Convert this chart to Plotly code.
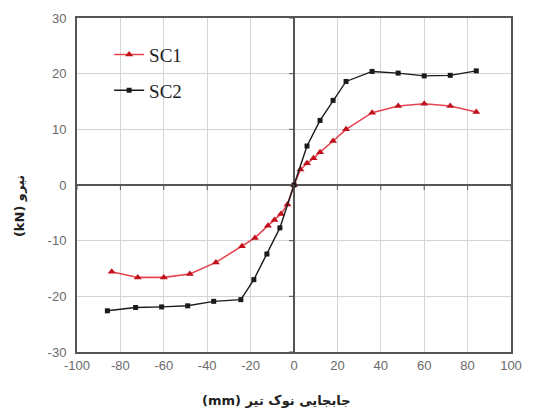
import plotly.graph_objects as go

# ---- data ----
sc1_x = [-84, -72, -60, -48, -36, -24, -18, -12, -9, -6, -3, 0, 3, 6, 9, 12, 18, 24, 36, 48, 60, 72, 84]
sc1_y = [-15.6, -16.6, -16.6, -16.0, -13.9, -11.0, -9.5, -7.3, -6.3, -5.2, -3.5, 0, 2.8, 3.9, 4.8, 5.9, 7.9, 10.0, 13.0, 14.2, 14.6, 14.2, 13.1]
sc2_x = [-86, -73, -61, -49, -37, -24.5, -18.5, -12.5, -6.5, 0, 6, 12, 18, 24, 36, 48, 60, 72, 84]
sc2_y = [-22.6, -22.0, -21.9, -21.7, -20.9, -20.6, -17.0, -12.4, -7.7, 0, 7.0, 11.6, 15.2, 18.6, 20.4, 20.1, 19.6, 19.7, 20.5]

x_ticks = [-100, -80, -60, -40, -20, 0, 20, 40, 60, 80, 100]
y_ticks = [-30, -20, -10, 0, 10, 20, 30]

x_title = "(mm) جابجایی نوک تیر"
y_title = "(kN) نیرو"

fig = go.Figure()
fig.add_trace(go.Scatter(
    x=sc1_x, y=sc1_y, name="SC1", mode="lines+markers", legendgroup="a",
    line=dict(color="#e84450", width=1.6),
    marker=dict(symbol="triangle-up", size=7, color="#c0101c"),
))
fig.add_trace(go.Scatter(
    x=sc2_x, y=sc2_y, name="SC2", mode="lines+markers", legendgroup="b",
    line=dict(color="#1a1a1a", width=1.4),
    marker=dict(symbol="square", size=5, color="#1a1a1a"),
))

shapes = []
for t in x_ticks:
    shapes.append(dict(type="line", xref="x", yref="y", ysizemode="pixel", yanchor=0,
                       x0=t, x1=t, y0=0, y1=-5, line=dict(color="#555555", width=1)))
for t in y_ticks:
    shapes.append(dict(type="line", xref="x", yref="y", xsizemode="pixel", xanchor=0,
                       x0=-5, x1=0, y0=t, y1=t, line=dict(color="#555555", width=1)))

fig.update_layout(
    width=533, height=417,
    margin=dict(l=77, r=11, t=16, b=65),
    paper_bgcolor="white", plot_bgcolor="white",
    showlegend=True,
    legend=dict(x=0.074, y=0.947, xanchor="left", yanchor="top",
                bgcolor="rgba(0,0,0,0)", tracegroupgap=8,
                font=dict(family="Liberation Serif", size=19, color="#222222")),
    xaxis=dict(range=[-100, 100], tickvals=x_ticks, ticktext=[str(t) for t in x_ticks],
               showgrid=True, gridcolor="#d4d4d4", gridwidth=1,
               zeroline=True, zerolinecolor="#555555", zerolinewidth=2,
               showline=True, mirror=True, linecolor="#555555", linewidth=2,
               ticks="", tickfont=dict(family="Liberation Sans", size=13, color="#6a6a6a")),
    yaxis=dict(range=[-30, 30], tickvals=y_ticks, ticktext=[str(t) for t in y_ticks],
               showgrid=True, gridcolor="#d4d4d4", gridwidth=1,
               zeroline=True, zerolinecolor="#555555", zerolinewidth=2,
               showline=True, mirror=True, linecolor="#555555", linewidth=2,
               ticks="", ticklabelstandoff=6,
               tickfont=dict(family="Liberation Sans", size=13, color="#6a6a6a")),
    shapes=shapes,
    annotations=[
        dict(text="<b>" + x_title + "</b>", xref="paper", yref="paper", x=0.46, y=-0.145,
             xanchor="center", yanchor="middle", showarrow=False,
             font=dict(family="DejaVu Sans", size=13, color="#222222")),
        dict(text="<b>" + y_title + "</b>", xref="paper", yref="paper", x=-0.132, y=0.436,
             xanchor="center", yanchor="middle", showarrow=False, textangle=-90,
             font=dict(family="DejaVu Sans", size=13, color="#222222")),
    ],
)

fig.write_html("out.html")
